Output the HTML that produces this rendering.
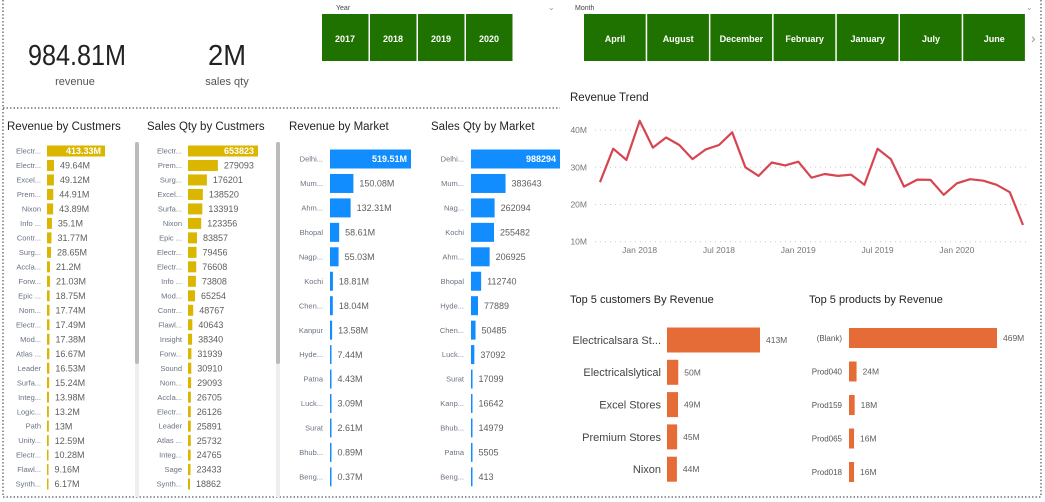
<!DOCTYPE html>
<html><head><meta charset="utf-8"><style>
html,body{margin:0;padding:0;background:#fff;width:1045px;height:502px;overflow:hidden;font-family:"Liberation Sans","DejaVu Sans",sans-serif}
svg text{font-family:"Liberation Sans","DejaVu Sans",sans-serif}
</style></head><body>
<svg id="page" width="1045" height="502" xmlns="http://www.w3.org/2000/svg">
<g stroke="#777" stroke-width="1.5" stroke-dasharray="1.5,2" fill="none">
<line x1="3" y1="0" x2="3" y2="497"/><line x1="3" y1="497" x2="1041" y2="497"/><line x1="1041" y1="0" x2="1041" y2="497"/><line x1="3" y1="108" x2="560" y2="108"/>
</g>
<g>
<text x="28" y="65" font-size="29" fill="#222" textLength="98" lengthAdjust="spacingAndGlyphs">984.81M</text>
<text x="75" y="85" text-anchor="middle" font-size="11" fill="#555">revenue</text></g>
<g>
<text x="208" y="65" font-size="29" fill="#222" textLength="38" lengthAdjust="spacingAndGlyphs">2M</text>
<text x="227" y="85" text-anchor="middle" font-size="11" fill="#555">sales qty</text></g>
<g id="slicers"></g>
<g id="charts"></g>
</svg>
<script>
var NS="http://www.w3.org/2000/svg";
var root=document.getElementById('charts');
var sl=document.getElementById('slicers');
function mk(tag,at,parent,txt){var e=document.createElementNS(NS,tag);for(var k in at)e.setAttribute(k,at[k]);if(txt!=null)e.textContent=txt;(parent||root).appendChild(e);return e;}

var years=["2017","2018","2019","2020"];
var months=["April","August","December","February","January","July","June"];
var t=mk('text',{x:336,y:10,'font-size':7,fill:'#444'},sl,'Year');


t=mk('text',{x:548,y:10,'font-size':8,fill:'#999'},sl,'⌄');


years.forEach(function(y,i){var g=mk('g',{},sl);


mk('rect',{x:322+i*48,y:14,width:46.5,height:47,fill:'#1f7200'},g);
mk('text',{x:322+i*48+23,y:42,'text-anchor':'middle','font-size':9,'font-weight':'bold',fill:'#fff'},g,y);});
t=mk('text',{x:575,y:10,'font-size':7,fill:'#444'},sl,'Month');


t=mk('text',{x:1026,y:10,'font-size':8,fill:'#999'},sl,'⌄');


months.forEach(function(m,i){var g=mk('g',{},sl);


mk('rect',{x:584+i*63.2,y:14,width:61.7,height:47,fill:'#1f7200'},g);
mk('text',{x:584+i*63.2+31,y:42,'text-anchor':'middle','font-size':9,'font-weight':'bold',fill:'#fff'},g,m);});
t=mk('text',{x:1031,y:43,'font-size':14,fill:'#999'},sl,'›');



var custRevCats=["Electr...","Electr...","Excel...","Prem...","Nixon","Info ...","Contr...","Surg...","Accla...","Forw...","Epic ...","Nom...","Electr...","Mod...","Atlas ...","Leader","Surfa...","Integ...","Logic...","Path","Unity...","Electr...","Flawl...","Synth..."];
var custRevVals=[413.33,49.64,49.12,44.91,43.89,35.1,31.77,28.65,21.2,21.03,18.75,17.74,17.49,17.38,16.67,16.53,15.24,13.98,13.2,13,12.59,10.28,9.16,6.17];
var custQtyCats=["Electr...","Prem...","Surg...","Excel...","Surfa...","Nixon","Epic ...","Electr...","Electr...","Info ...","Mod...","Contr...","Flawl...","Insight","Forw...","Sound","Nom...","Accla...","Electr...","Leader","Atlas ...","Integ...","Sage","Synth..."];
var custQtyVals=[653823,279093,176201,138520,133919,123356,83857,79456,76608,73808,65254,48767,40643,38340,31939,30910,29093,26705,26126,25891,25732,24765,23433,18862];
var mktRevCats=["Delhi...","Mum...","Ahm...","Bhopal","Nagp...","Kochi","Chen...","Kanpur","Hyde...","Patna","Luck...","Surat","Bhub...","Beng..."];
var mktRevVals=[519.51,150.08,132.31,58.61,55.03,18.81,18.04,13.58,7.44,4.43,3.09,2.61,0.89,0.37];
var mktQtyCats=["Delhi...","Mum...","Nag...","Kochi","Ahm...","Bhopal","Hyde...","Chen...","Luck...","Surat","Kanp...","Bhub...","Patna","Beng..."];
var mktQtyVals=[988294,383643,262094,255482,206925,112740,77889,50485,37092,17099,16642,14979,5505,413];
var topCustCats=["Electricalsara St...","Electricalslytical","Excel Stores","Premium Stores","Nixon"];
var topCustVals=[413,50,49,45,44];
var topProdCats=["(Blank)","Prod040","Prod159","Prod065","Prod018"];
var topProdVals=[469,24,18,16,16];
var trendMonths=["Oct 2017","Nov 2017","Dec 2017","Jan 2018","Feb 2018","Mar 2018","Apr 2018","May 2018","Jun 2018","Jul 2018","Aug 2018","Sep 2018","Oct 2018","Nov 2018","Dec 2018","Jan 2019","Feb 2019","Mar 2019","Apr 2019","May 2019","Jun 2019","Jul 2019","Aug 2019","Sep 2019","Oct 2019","Nov 2019","Dec 2019","Jan 2020","Feb 2020","Mar 2020","Apr 2020","May 2020","Jun 2020"];
var trendVals=[26,35,32,42.5,35.3,38,36,32.2,34.8,36,39.4,30,27.7,31.3,30.5,31.5,27.2,28.2,27.7,28,25.3,35,32.2,24.8,26.7,26.6,22.6,25.7,26.8,26.4,25.3,23.3,14.5];
var trendTicks=[10,20,30,40];
var trendXTicks=["Jan 2018","Jul 2018","Jan 2019","Jul 2019","Jan 2020"];

function hbar(o){
  var g=mk('g',{});
  
  
  var tt=mk('text',{x:o.tx,y:o.ty,'font-size':o.tfs||11.5,fill:'#252423'},g,o.title);
  
  
  var mx=Math.max.apply(null,o.vals);
  function xs(v){return v/mx*o.w;}
  o.cats.forEach(function(c,i){
    var cy=o.y0+i*o.step;
    var lb=mk('text',{x:o.lx,y:cy+o.lfs*0.35,'text-anchor':'end','font-size':o.lfs,fill:o.lcol||'#6b7383'},g,c);
    
    
    var bw=Math.max(xs(o.vals[i]),1.5);
    var r=mk('rect',{x:o.bx,y:cy-o.bh/2,width:bw,height:o.bh,fill:o.col},g);
    
    
    var txt=o.labels?o.labels[i]:String(o.vals[i]);
    var inside=(i===0&&o.inside);
    var vl=mk('text',{x:inside?o.bx+bw-4:o.bx+bw+6,y:cy+o.vfs*0.35,'text-anchor':inside?'end':'start','font-size':o.vfs,fill:inside?'#fff':'#605e5c','font-weight':inside?'bold':'normal'},g,txt);
    
    
  });
  if(o.sb){var s=mk('rect',{x:o.sb,y:142,width:4,height:355,fill:'#eee'},g);
    
    
    s=mk('rect',{x:o.sb,y:142,width:4,height:222,fill:'#bbb',rx:2},g);
    
    }
}
hbar({name:'revenue-by-customers',title:'Revenue by Custmers',tx:7,ty:130,cats:custRevCats,vals:custRevVals,labels:custRevVals.map(function(v){return v+'M';}),y0:151,step:14.48,lx:41,lfs:7.5,bx:47,w:58,bh:11,col:'#dab600',vfs:9,inside:true,sb:135});
hbar({name:'sales-qty-by-customers',title:'Sales Qty by Custmers',tx:147,ty:130,cats:custQtyCats,vals:custQtyVals,y0:151,step:14.48,lx:182,lfs:7.5,bx:188,w:70,bh:11,col:'#dab600',vfs:9,inside:true,sb:276});
hbar({name:'revenue-by-market',title:'Revenue by Market',tx:289,ty:130,cats:mktRevCats,vals:mktRevVals,labels:mktRevVals.map(function(v){return v.toFixed(2)+'M';}),y0:159,step:24.45,lx:323,lfs:7.5,bx:330,w:81,bh:19,col:'#118dff',vfs:9,inside:true});
hbar({name:'sales-qty-by-market',title:'Sales Qty by Market',tx:431,ty:130,cats:mktQtyCats,vals:mktQtyVals,y0:159,step:24.45,lx:464,lfs:7.5,bx:471,w:89,bh:19,col:'#118dff',vfs:9,inside:true});
hbar({name:'top5-customers',title:'Top 5 customers By Revenue',tx:570,ty:303,tfs:11,cats:topCustCats,vals:topCustVals,labels:topCustVals.map(function(v){return v+'M';}),y0:340,step:32.3,lx:661,lfs:11,lcol:'#444',bx:667,w:93,bh:25,col:'#e66c37',vfs:8.5});
hbar({name:'top5-products',title:'Top 5 products by Revenue',tx:809,ty:303,tfs:11,cats:topProdCats,vals:topProdVals,labels:topProdVals.map(function(v){return v+'M';}),y0:338,step:33.5,lx:842,lfs:8,lcol:'#555',bx:849,w:148,bh:20,col:'#e66c37',vfs:8.5});

(function(){
  var g=mk('g',{});
  
  
  var tt=mk('text',{x:570,y:101,'font-size':11.5,fill:'#252423'},g,'Revenue Trend');
  
  
  function yS(v){return 241.7-(v-10)*3.72;}
  function xS(i){return 600+i*(423/(trendMonths.length-1));}
  trendTicks.forEach(function(v){
    var l=mk('line',{x1:595,x2:1030,y1:yS(v),y2:yS(v),stroke:'#ccc','stroke-dasharray':'1,4'},g);
    
    
    var t=mk('text',{x:587,y:yS(v)+3,'text-anchor':'end','font-size':8.5,fill:'#777'},g,v+'M');
    
    
  });
  trendXTicks.forEach(function(lbl){
    var i=trendMonths.indexOf(lbl);
    var t=mk('text',{x:xS(i),y:253,'text-anchor':'middle','font-size':8.5,fill:'#777'},g,lbl);
    
    
  });
  var d=trendVals.map(function(v,i){return (i?'L':'M')+xS(i).toFixed(1)+','+yS(v).toFixed(1);}).join(' ');
  var p=mk('path',{d:d,fill:'none',stroke:'#d64550','stroke-width':2.2,'stroke-linejoin':'round'},g);
  
  
})();
</script>
</body></html>
